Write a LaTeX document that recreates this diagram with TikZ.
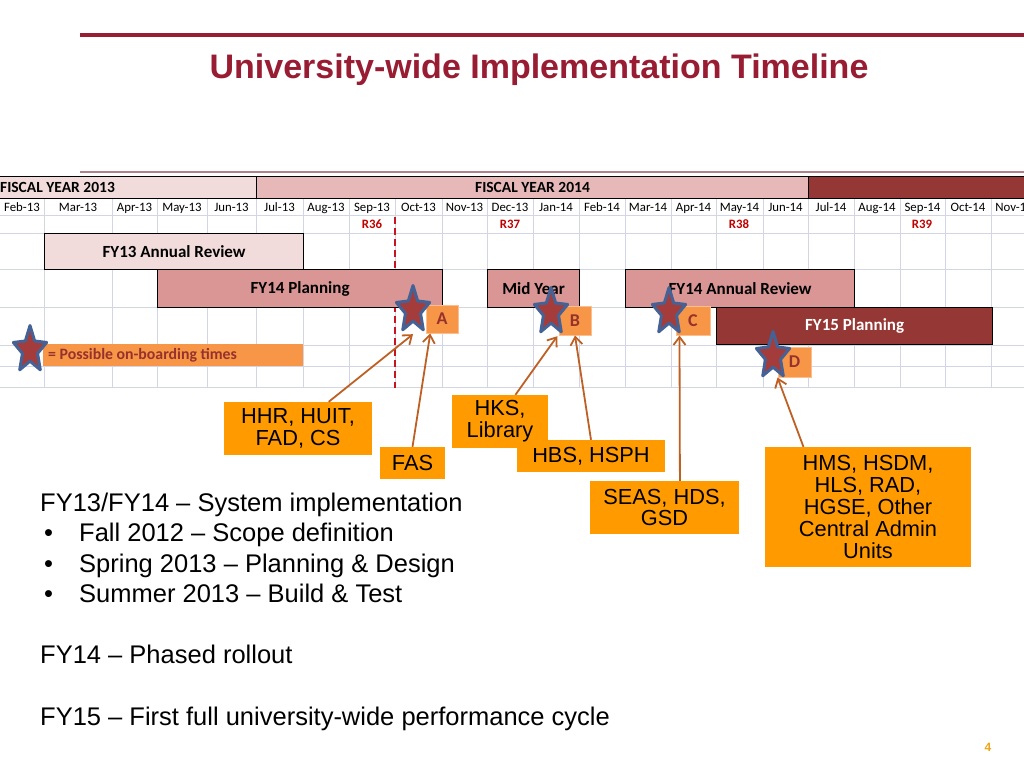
\documentclass[tikz,border=0pt]{standalone}
\usepackage{fontspec}
\setmainfont{Liberation Sans}
\newfontfamily\calib{Carlito}
\usetikzlibrary{shapes.geometric, calc, arrows.meta}
\definecolor{titleRed}{RGB}{152,28,50}
\definecolor{ruleMauve}{RGB}{178,128,138}
\definecolor{fyLight}{RGB}{242,220,219}
\definecolor{fyMid}{RGB}{230,184,183}
\definecolor{barPink}{RGB}{218,150,148}
\definecolor{darkRed}{RGB}{149,55,53}
\definecolor{gridGray}{RGB}{212,213,228}
\definecolor{revRed}{RGB}{192,0,0}
\definecolor{dashRed}{RGB}{200,20,30}
\definecolor{callOrange}{RGB}{255,155,0}
\definecolor{tagOrange}{RGB}{247,150,70}
\definecolor{tagEdge}{RGB}{250,190,145}
\definecolor{tagText}{RGB}{150,50,45}
\definecolor{starBlue}{RGB}{68,98,150}
\definecolor{starRed}{RGB}{165,60,60}
\definecolor{arrowBrown}{RGB}{190,95,35}
\definecolor{pageOrange}{RGB}{235,165,20}

\begin{document}
\begin{tikzpicture}[x=1pt, y=-1pt,
		month/.style={anchor=base, inner sep=0, font=\calib\fontsize{12.8}{12.8}\selectfont},
		rev/.style={anchor=base, inner sep=0, text=revRed, font=\calib\bfseries\fontsize{12.8}{12.8}\selectfont},
		fycell/.style={draw=black, line width=1pt, anchor=north west, inner sep=0, minimum height=22, font=\calib\bfseries\fontsize{15.5}{15.5}\selectfont},
		bar/.style={draw=black, line width=1.2pt, anchor=north west, inner sep=0, font=\calib\bfseries\fontsize{17}{17}\selectfont},
		tag/.style={fill=tagOrange, draw=tagEdge, line width=1pt, inner sep=0, text=tagText, font=\calib\bfseries\fontsize{18}{18}\selectfont},
		onstar/.style={star, star points=5, star point ratio=2.2, minimum size=35, inner sep=0, fill=starRed, draw=starBlue, line width=3pt, line join=round, yscale=1.4, transform shape},
		call/.style={fill=callOrange, inner sep=0, align=center, font=\fontsize{21.8}{21.8}\selectfont},
		link/.style={-{Straight Barb[length=8pt, width=12pt, line width=1.8pt]}, arrowBrown, line width=1.8pt},
		body/.style={anchor=base west, inner sep=0, font=\fontsize{25.5}{25.5}\selectfont}]
	\useasboundingbox (0,0) rectangle (1024,768);
	\clip (0,0) rectangle (1024,768);

	% Rules and title
	\draw[titleRed, line width=4pt] (80,35) -- (1024,35);
	\draw[ruleMauve, line width=2pt] (80,172) -- (1024,172);
	\node[anchor=base, inner sep=0, text=titleRed, font=\bfseries\fontsize{34}{34}\selectfont] (title) at (539,78) {University-wide Implementation Timeline};

	% Grid
	\foreach \y in {215,233,269,307,345,366,387}
	\draw[gridGray, line width=1pt] (0,\y) -- (1024,\y);
	\foreach \x in {44,112,157,207,256,303,349,395,442,487,533,579,625,671,716,763,808,854,900,945,991}
	\draw[gridGray, line width=1pt] (\x,198) -- (\x,387);

	% Fiscal years
	\node[fycell, fill=fyLight, minimum width=398] (fy13) at (-142,176) {FISCAL YEAR 2013};
	\node[fycell, fill=fyMid, minimum width=552] (fy14) at (256,176) {FISCAL YEAR 2014};
	\node[fycell, fill=darkRed, minimum width=300] (fy15) at (808,176) {};

	% Months
	\foreach \xa/\xb/\m in {0/44/Feb-13, 44/112/Mar-13, 112/157/Apr-13, 157/207/May-13, 207/256/Jun-13, 256/303/Jul-13, 303/349/Aug-13, 349/395/Sep-13, 395/442/Oct-13, 442/487/Nov-13, 487/533/Dec-13, 533/579/Jan-14, 579/625/Feb-14, 625/671/Mar-14, 671/716/Apr-14, 716/763/May-14, 763/808/Jun-14, 808/854/Jul-14, 854/900/Aug-14, 900/945/Sep-14, 945/991/Oct-14, 991/1037/Nov-14}
	\node[month] (m\xa) at ({(\xa+\xb)/2},211.5) {\m};

	% Review labels
	\node[rev] (r36) at (372,228.5) {R36};
	\node[rev] (r37) at (510,228.5) {R37};
	\node[rev] (r38) at (739,228.5) {R38};
	\node[rev] (r39) at (922,228.5) {R39};
	\coordinate (cutTop) at (395,217);
	\coordinate (cutEnd) at (395,388);
	\draw[dashRed, line width=2pt, dash pattern=on 7pt off 4pt] (cutTop) -- (cutEnd);

	% Bars
	\node[bar, fill=fyLight, minimum width=259, minimum height=36] (rev13) at (44,233) {FY13 Annual Review};
	\node[bar, fill=barPink, minimum width=285, minimum height=38] (plan14) at (157,269) {FY14 Planning};
	\node[bar, fill=barPink, minimum width=92, minimum height=38] (mid) at (487,269) {Mid Year};
	\node[bar, fill=barPink, minimum width=229, minimum height=38] (rev14) at (625,269) {FY14 Annual Review};
	\node[bar, fill=darkRed, text=white, minimum width=276, minimum height=37] (plan15) at (716,307) {FY15 Planning};

	% Legend
	\node[fill=tagOrange, anchor=north west, inner sep=0, minimum width=260, minimum height=22] (legend) at (43,344) {};
	\node[anchor=west, inner sep=0, text=tagText, font=\calib\bfseries\fontsize{15.8}{15.8}\selectfont] (legendTxt) at (48,355) {= Possible on-boarding times};
	\node[onstar] (sL) at (30,350) {};

	% On-boarding points
	\node[tag, minimum width=32, minimum height=28] (lA) at (442,319) {A};
	\node[tag, minimum width=32, minimum height=29] (lB) at (575,320.5) {B};
	\node[tag, minimum width=34, minimum height=29] (lC) at (693,320.5) {C};
	\node[tag, minimum width=33, minimum height=30] (lD) at (794.5,362) {D};
	\node[onstar] (sA) at (413,310) {};
	\node[onstar] (sB) at (551,312) {};
	\node[onstar] (sC) at (669,312) {};
	\node[onstar] (sD) at (773,356) {};

	% Schools
	\node[call, minimum width=148, minimum height=53] (hhr) at (298,428.5) {HHR, HUIT,\\FAD, CS};
	\node[call, minimum width=65, minimum height=32] (fas) at (412.5,463) {FAS};
	\node[call, minimum width=148, minimum height=32] (hbs) at (591,456) {HBS, HSPH};
	\node[call, minimum width=96, minimum height=53] (hks) at (500,421.5) {HKS,\\Library};
	\node[call, minimum width=149, minimum height=53] (seas) at (664.5,507.5) {SEAS, HDS,\\GSD};
	\node[call, minimum width=206, minimum height=120] (hms) at (868,507) {HMS, HSDM,\\HLS, RAD,\\HGSE, Other\\Central Admin\\Units};

	% Draw mappings
	\draw[link] (hhr.41) -- ($(sA.outer point 3)!0.5!(sA.outer point 4)$);
	\draw[link] (fas.north) -- (lA.231);
	\draw[link] (hks.60) -- ($(sB.outer point 3)!0.75!(sB.outer point 4)$);
	\draw[link] (hbs.north) -- (lB.south);
	\draw[link] (seas.60) -- (lC.228);
	\draw[link] (hms.137) -- (lD.south west);

	% Phases
	\node[body] (phase1) at (40,511) {FY13/FY14 – System implementation};
	\foreach \yb/\txt [count=\i] in {541/Fall 2012 – Scope definition, 572/Spring 2013 – Planning \& Design, 602/Summer 2013 – Build \& Test}
	{
		\node[body] (dot\i) at (44,\yb) {•};
		\node[body] (item\i) at (79,\yb) {\txt};
	}
	\node[body] (phase2) at (40,663) {FY14 – Phased rollout};
	\node[body] (phase3) at (40,725) {FY15 – First full university-wide performance cycle};

	\node[inner sep=0, text=pageOrange, font=\bfseries\fontsize{12}{12}\selectfont] (pnum) at (988,747) {4};
\end{tikzpicture}
\end{document}
